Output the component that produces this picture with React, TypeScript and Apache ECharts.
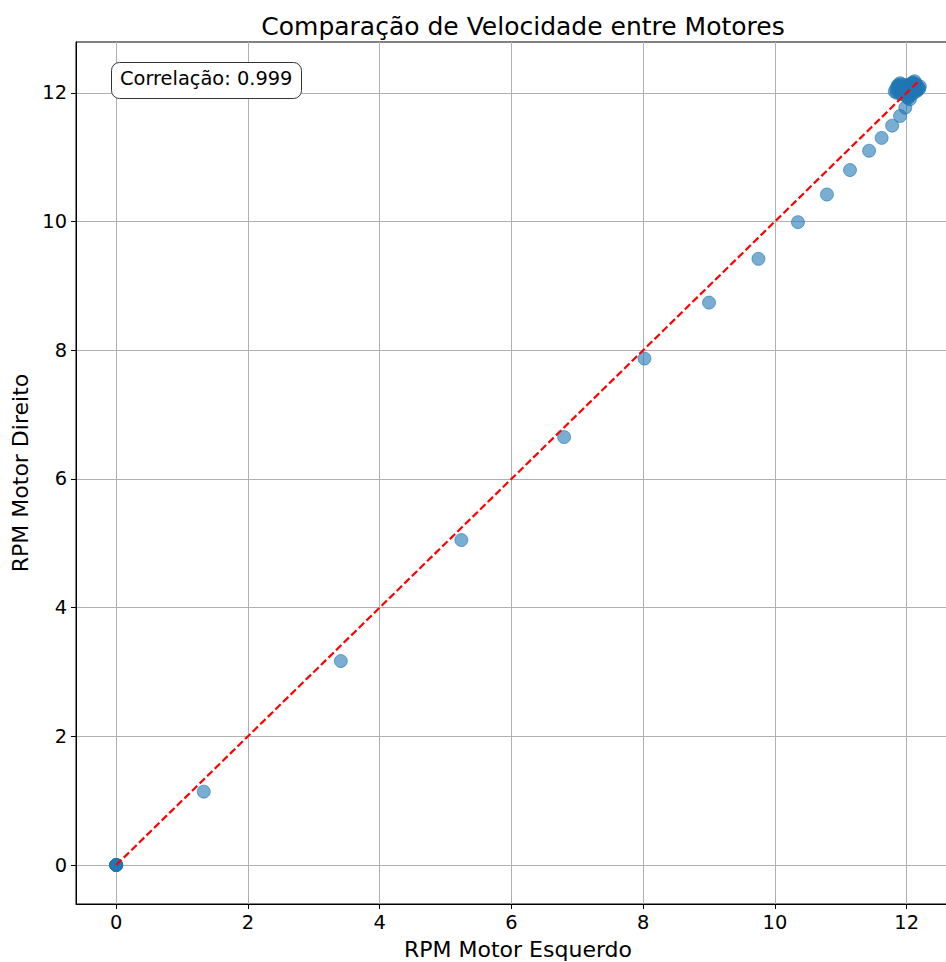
import React, { useEffect, useRef } from "react";
import * as echarts from "echarts";

const leftRpm: number[] = [
  0, 0, 0, 0, 0, 1.33, 3.41, 5.24, 6.8, 8.02, 9.0, 9.75, 10.35, 10.79, 11.14, 11.43, 11.62, 11.78, 11.9, 11.98,
  11.82, 11.85, 11.88, 11.9, 11.95, 12.0, 12.05, 12.08, 12.1, 12.12, 12.15, 12.18, 12.2, 12.05, 12.02, 11.92, 12.1, 12.15, 11.98, 12.03,
  11.84, 11.87, 11.93, 11.97, 12.01, 12.06, 12.09, 12.13, 12.16, 12.19, 12.04, 12.11, 11.89, 11.96, 12.07, 12.14, 12.0, 12.06, 11.86, 12.12,
];
const rightRpm: number[] = [
  0, 0, 0, 0, 0, 1.14, 3.17, 5.05, 6.65, 7.87, 8.74, 9.42, 9.99, 10.42, 10.8, 11.1, 11.3, 11.49, 11.64, 11.77,
  12.02, 12.0, 12.1, 12.15, 12.05, 12.0, 11.95, 12.1, 12.15, 12.18, 12.12, 12.08, 12.1, 11.9, 11.92, 11.98, 12.02, 12.05, 12.12, 12.08,
  12.06, 12.12, 12.13, 12.1, 12.04, 12.14, 12.16, 12.1, 12.03, 12.06, 11.97, 12.0, 12.0, 12.02, 12.08, 12.14, 11.94, 12.04, 12.1, 12.06,
];
const tickValues: number[] = [0, 2, 4, 6, 8, 10, 12];
const refLine: number[] = [0, 12.17];
const correlationText = "Correlação: 0.999";

export default function App() {
  const ref = useRef<HTMLDivElement>(null);
  useEffect(() => {
    if (!ref.current) return;
    const chart = echarts.init(ref.current, undefined, { renderer: "svg" });
    const font = "DejaVu Sans";
    const axisCommon = {
      type: "value" as const,
      axisLine: { show: true, onZero: false, lineStyle: { color: "#000", width: 1 } },
      axisTick: { show: true, inside: false, length: 5, lineStyle: { color: "#000" }, customValues: tickValues },
      axisLabel: { show: true, fontSize: 19.4, color: "#000", fontFamily: font, margin: 9, customValues: tickValues },
      splitLine: { show: true, lineStyle: { color: "#b0b0b0", width: 1 } },
      nameTextStyle: { fontSize: 22, color: "#000", fontFamily: font },
    };
    chart.setOption({
      animation: false,
      backgroundColor: "#fff",
      title: {
        text: "Comparação de Velocidade entre Motores",
        left: 518,
        top: 9,
        textAlign: "center",
        textStyle: { fontSize: 25, fontWeight: "normal", color: "#000", fontFamily: font },
      },
      grid: {
        left: 76,
        right: -14,
        top: 42,
        bottom: 58,
        containLabel: false,
        outerBoundsMode: "none",
        show: true,
        borderColor: "#000",
        borderWidth: 1,
        backgroundColor: "transparent",
      },
      xAxis: {
        ...axisCommon,
        min: -0.61,
        max: 12.81,
        name: "RPM Motor Esquerdo",
        nameLocation: "middle",
        nameGap: 34,
      },
      yAxis: {
        ...axisCommon,
        min: -0.606,
        max: 12.79,
        name: "RPM Motor Direito",
        nameLocation: "middle",
        nameGap: 44,
      },
      series: [
        {
          type: "scatter",
          data: leftRpm.map((x, i) => [x, rightRpm[i]]),
          symbolSize: 13,
          itemStyle: {
            color: "rgba(31,119,180,0.6)",
            borderColor: "rgba(31,119,180,0.6)",
            borderWidth: 1,
            opacity: 1,
          },
          z: 3,
        },
        {
          type: "line",
          data: refLine.map((v) => [v, v]),
          symbol: "none",
          lineStyle: { color: "#ff0000", width: 2.2, type: [7.4, 3.2] },
          z: 4,
        },
      ],
      graphic: [
        {
          type: "rect",
          left: 111,
          top: 62,
          shape: { width: 190, height: 36, r: 8 },
          style: { fill: "#fff", stroke: "#333", lineWidth: 1 },
          z: 10,
        },
        {
          type: "text",
          left: 120,
          top: 69,
          style: { text: correlationText, fontSize: 19.4, fill: "#000", fontFamily: font },
          z: 11,
        },
      ],
    });
    return () => chart.dispose();
  }, []);
  return <div ref={ref} style={{ position: "fixed", left: 0, top: 0, width: 946, height: 962 }} />;
}
